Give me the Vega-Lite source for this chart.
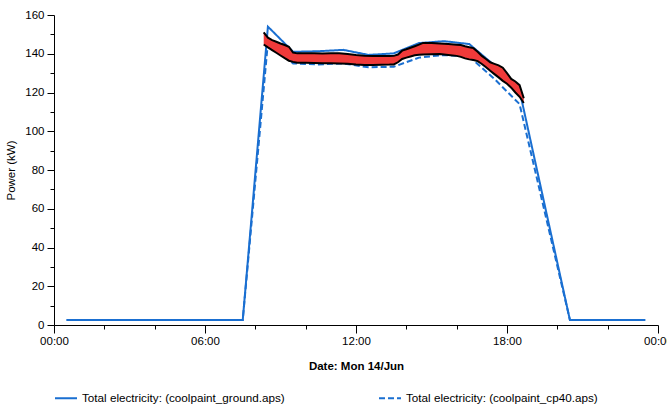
{
  "$schema": "https://vega.github.io/schema/vega-lite/v6.json",
  "width": 604,
  "height": 310,
  "autosize": {"type": "none"},
  "padding": {"left": 54, "top": 15, "right": 9, "bottom": 85},
  "config": {
    "view": {"stroke": null},
    "axis": {"grid": false, "domainColor": "black", "tickColor": "black", "labelColor": "black", "titleColor": "black", "labelFont": "Liberation Sans", "titleFont": "Liberation Sans", "labelFontSize": 11.5, "titleFontSize": 11.5, "labelOverlap": false, "labelFlush": false}
  },
  "resolve": {"axis": {"y": "independent"}},
  "layer": [
    {
      "data": {"values": [
        {"h": 0.5, "s": "Total electricity: (coolpaint_ground.aps)", "v": 2.6},
        {"h": 1.5, "s": "Total electricity: (coolpaint_ground.aps)", "v": 2.6},
        {"h": 2.5, "s": "Total electricity: (coolpaint_ground.aps)", "v": 2.6},
        {"h": 3.5, "s": "Total electricity: (coolpaint_ground.aps)", "v": 2.6},
        {"h": 4.5, "s": "Total electricity: (coolpaint_ground.aps)", "v": 2.6},
        {"h": 5.5, "s": "Total electricity: (coolpaint_ground.aps)", "v": 2.6},
        {"h": 6.5, "s": "Total electricity: (coolpaint_ground.aps)", "v": 2.6},
        {"h": 7.5, "s": "Total electricity: (coolpaint_ground.aps)", "v": 2.6},
        {"h": 8.5, "s": "Total electricity: (coolpaint_ground.aps)", "v": 154},
        {"h": 9.5, "s": "Total electricity: (coolpaint_ground.aps)", "v": 141},
        {"h": 10.5, "s": "Total electricity: (coolpaint_ground.aps)", "v": 141.3},
        {"h": 11.5, "s": "Total electricity: (coolpaint_ground.aps)", "v": 142},
        {"h": 12.5, "s": "Total electricity: (coolpaint_ground.aps)", "v": 139.4},
        {"h": 13.5, "s": "Total electricity: (coolpaint_ground.aps)", "v": 140.2},
        {"h": 14.5, "s": "Total electricity: (coolpaint_ground.aps)", "v": 145.5},
        {"h": 15.5, "s": "Total electricity: (coolpaint_ground.aps)", "v": 146.5},
        {"h": 16.5, "s": "Total electricity: (coolpaint_ground.aps)", "v": 145},
        {"h": 17.5, "s": "Total electricity: (coolpaint_ground.aps)", "v": 134},
        {"h": 18.5, "s": "Total electricity: (coolpaint_ground.aps)", "v": 121},
        {"h": 20.5, "s": "Total electricity: (coolpaint_ground.aps)", "v": 2.6},
        {"h": 21.5, "s": "Total electricity: (coolpaint_ground.aps)", "v": 2.6},
        {"h": 22.5, "s": "Total electricity: (coolpaint_ground.aps)", "v": 2.6},
        {"h": 23.5, "s": "Total electricity: (coolpaint_ground.aps)", "v": 2.6},
        {"h": 0.5, "s": "Total electricity: (coolpaint_cp40.aps)", "v": 2.6},
        {"h": 1.5, "s": "Total electricity: (coolpaint_cp40.aps)", "v": 2.6},
        {"h": 2.5, "s": "Total electricity: (coolpaint_cp40.aps)", "v": 2.6},
        {"h": 3.5, "s": "Total electricity: (coolpaint_cp40.aps)", "v": 2.6},
        {"h": 4.5, "s": "Total electricity: (coolpaint_cp40.aps)", "v": 2.6},
        {"h": 5.5, "s": "Total electricity: (coolpaint_cp40.aps)", "v": 2.6},
        {"h": 6.5, "s": "Total electricity: (coolpaint_cp40.aps)", "v": 2.6},
        {"h": 7.5, "s": "Total electricity: (coolpaint_cp40.aps)", "v": 2.6},
        {"h": 8.5, "s": "Total electricity: (coolpaint_cp40.aps)", "v": 146},
        {"h": 9.5, "s": "Total electricity: (coolpaint_cp40.aps)", "v": 135},
        {"h": 10.5, "s": "Total electricity: (coolpaint_cp40.aps)", "v": 134.5},
        {"h": 11.5, "s": "Total electricity: (coolpaint_cp40.aps)", "v": 135},
        {"h": 12.5, "s": "Total electricity: (coolpaint_cp40.aps)", "v": 133},
        {"h": 13.5, "s": "Total electricity: (coolpaint_cp40.aps)", "v": 133.3},
        {"h": 14.5, "s": "Total electricity: (coolpaint_cp40.aps)", "v": 138},
        {"h": 15.5, "s": "Total electricity: (coolpaint_cp40.aps)", "v": 139.4},
        {"h": 16.5, "s": "Total electricity: (coolpaint_cp40.aps)", "v": 138.5},
        {"h": 17.5, "s": "Total electricity: (coolpaint_cp40.aps)", "v": 127},
        {"h": 18.5, "s": "Total electricity: (coolpaint_cp40.aps)", "v": 114},
        {"h": 20.5, "s": "Total electricity: (coolpaint_cp40.aps)", "v": 2.6},
        {"h": 21.5, "s": "Total electricity: (coolpaint_cp40.aps)", "v": 2.6},
        {"h": 22.5, "s": "Total electricity: (coolpaint_cp40.aps)", "v": 2.6},
        {"h": 23.5, "s": "Total electricity: (coolpaint_cp40.aps)", "v": 2.6}
      ]},
      "mark": {"type": "line", "strokeWidth": 2},
      "encoding": {
        "x": {
          "field": "h", "type": "quantitative",
          "scale": {"domain": [0, 24], "nice": false},
          "axis": {
            "title": "Date: Mon 14/Jun",
            "titleFontWeight": "bold",
            "titlePadding": 14,
            "values": [0, 1, 2, 3, 4, 5, 6, 7, 8, 9, 10, 11, 12, 13, 14, 15, 16, 17, 18, 19, 20, 21, 22, 23, 24],
            "labelExpr": "datum.value % 6 == 0 ? ((datum.value % 24) < 10 ? '0' : '') + (datum.value % 24) + ':00' : ''",
            "tickSize": {"condition": {"test": "datum.value % 6 == 0", "value": 8}, "value": 4},
            "labelPadding": 2,
            "labelFlush": false,
            "labelOverlap": false
          }
        },
        "y": {
          "field": "v", "type": "quantitative",
          "scale": {"domain": [0, 160], "nice": false},
          "axis": {
            "orient": "left",
            "title": "Power (kW)",
            "titleFontWeight": "normal",
            "titlePadding": 8,
            "values": [0, 20, 40, 60, 80, 100, 120, 140, 160],
            "tickSize": 7,
            "labelPadding": 3,
            "labelOverlap": false
          }
        },
        "color": {
          "field": "s", "type": "nominal",
          "scale": {"domain": ["Total electricity: (coolpaint_ground.aps)", "Total electricity: (coolpaint_cp40.aps)"], "range": ["#1a6fd1", "#1a6fd1"]},
          "legend": {
            "title": null,
            "orient": "none",
            "legendX": 0,
            "legendY": 371,
            "direction": "horizontal",
            "columnPadding": 90,
            "padding": 0,
            "symbolType": "stroke",
            "symbolSize": 484,
            "symbolStrokeWidth": 2,
            "labelFontSize": 11.7,
            "labelFont": "Liberation Sans",
            "labelColor": "black",
            "labelOffset": 4,
            "labelLimit": 400
          }
        },
        "strokeDash": {
          "field": "s", "type": "nominal",
          "scale": {"domain": ["Total electricity: (coolpaint_ground.aps)", "Total electricity: (coolpaint_cp40.aps)"], "range": [[1, 0], [6, 3]]},
          "legend": null
        }
      }
    },
    {
      "data": {"values": [
        {"h": 8.333, "hi": 151.0, "lo": 144.8},
        {"h": 8.5, "hi": 148.3, "lo": 143.3},
        {"h": 8.667, "hi": 147.0, "lo": 141.9},
        {"h": 8.833, "hi": 146.2, "lo": 140.5},
        {"h": 9.0, "hi": 145.3, "lo": 139.1},
        {"h": 9.167, "hi": 144.5, "lo": 137.7},
        {"h": 9.333, "hi": 143.6, "lo": 136.4},
        {"h": 9.5, "hi": 140.6, "lo": 135.8},
        {"h": 9.667, "hi": 140.2, "lo": 135.4},
        {"h": 9.833, "hi": 140.2, "lo": 135.3},
        {"h": 10.0, "hi": 140.3, "lo": 135.3},
        {"h": 10.333, "hi": 140.2, "lo": 135.2},
        {"h": 10.667, "hi": 140.1, "lo": 135.1},
        {"h": 11.0, "hi": 140.2, "lo": 135.1},
        {"h": 11.333, "hi": 140.2, "lo": 135.0},
        {"h": 11.667, "hi": 139.9, "lo": 134.8},
        {"h": 12.0, "hi": 139.4, "lo": 134.4},
        {"h": 12.333, "hi": 139.0, "lo": 134.2},
        {"h": 12.667, "hi": 138.8, "lo": 134.2},
        {"h": 13.0, "hi": 138.8, "lo": 134.3},
        {"h": 13.333, "hi": 138.8, "lo": 134.4},
        {"h": 13.5, "hi": 138.9, "lo": 134.5},
        {"h": 13.667, "hi": 139.6, "lo": 135.6},
        {"h": 13.833, "hi": 141.6, "lo": 137.3},
        {"h": 14.0, "hi": 142.3, "lo": 138.0},
        {"h": 14.167, "hi": 143.1, "lo": 138.6},
        {"h": 14.333, "hi": 143.9, "lo": 139.2},
        {"h": 14.5, "hi": 144.7, "lo": 139.5},
        {"h": 14.667, "hi": 145.6, "lo": 139.6},
        {"h": 15.0, "hi": 145.5, "lo": 139.8},
        {"h": 15.333, "hi": 145.3, "lo": 139.9},
        {"h": 15.667, "hi": 145.0, "lo": 139.4},
        {"h": 16.0, "hi": 144.7, "lo": 138.9},
        {"h": 16.167, "hi": 144.5, "lo": 138.4},
        {"h": 16.333, "hi": 143.9, "lo": 137.6},
        {"h": 16.5, "hi": 143.4, "lo": 137.1},
        {"h": 16.667, "hi": 142.9, "lo": 136.8},
        {"h": 16.833, "hi": 141.0, "lo": 136.2},
        {"h": 17.0, "hi": 138.9, "lo": 134.7},
        {"h": 17.167, "hi": 137.3, "lo": 133.0},
        {"h": 17.333, "hi": 135.6, "lo": 131.2},
        {"h": 17.5, "hi": 134.8, "lo": 129.5},
        {"h": 17.667, "hi": 134.0, "lo": 127.8},
        {"h": 17.833, "hi": 132.8, "lo": 126.0},
        {"h": 18.0, "hi": 130.0, "lo": 124.5},
        {"h": 18.167, "hi": 127.0, "lo": 122.5},
        {"h": 18.333, "hi": 125.7, "lo": 120.0},
        {"h": 18.5, "hi": 123.8, "lo": 117.8},
        {"h": 18.667, "hi": 117.0, "lo": 114.6}
      ]},
      "encoding": {"x": {"field": "h", "type": "quantitative"}},
      "layer": [
        {
          "mark": {"type": "area", "color": "#f03a3a"},
          "encoding": {"y": {"field": "lo", "type": "quantitative", "axis": {"orient": "left", "title": null, "values": [10, 30, 50, 70, 90, 110, 130, 150], "labels": false, "domain": false, "tickSize": 4}}, "y2": {"field": "hi"}}
        },
        {
          "mark": {"type": "line", "color": "black", "strokeWidth": 2},
          "encoding": {"y": {"field": "hi", "type": "quantitative", "axis": {"orient": "left", "title": null, "values": [10, 30, 50, 70, 90, 110, 130, 150], "labels": false, "domain": false, "tickSize": 4}}}
        },
        {
          "mark": {"type": "line", "color": "black", "strokeWidth": 2},
          "encoding": {"y": {"field": "lo", "type": "quantitative", "axis": {"orient": "left", "title": null, "values": [10, 30, 50, 70, 90, 110, 130, 150], "labels": false, "domain": false, "tickSize": 4}}}
        }
      ]
    }
  ]
}
